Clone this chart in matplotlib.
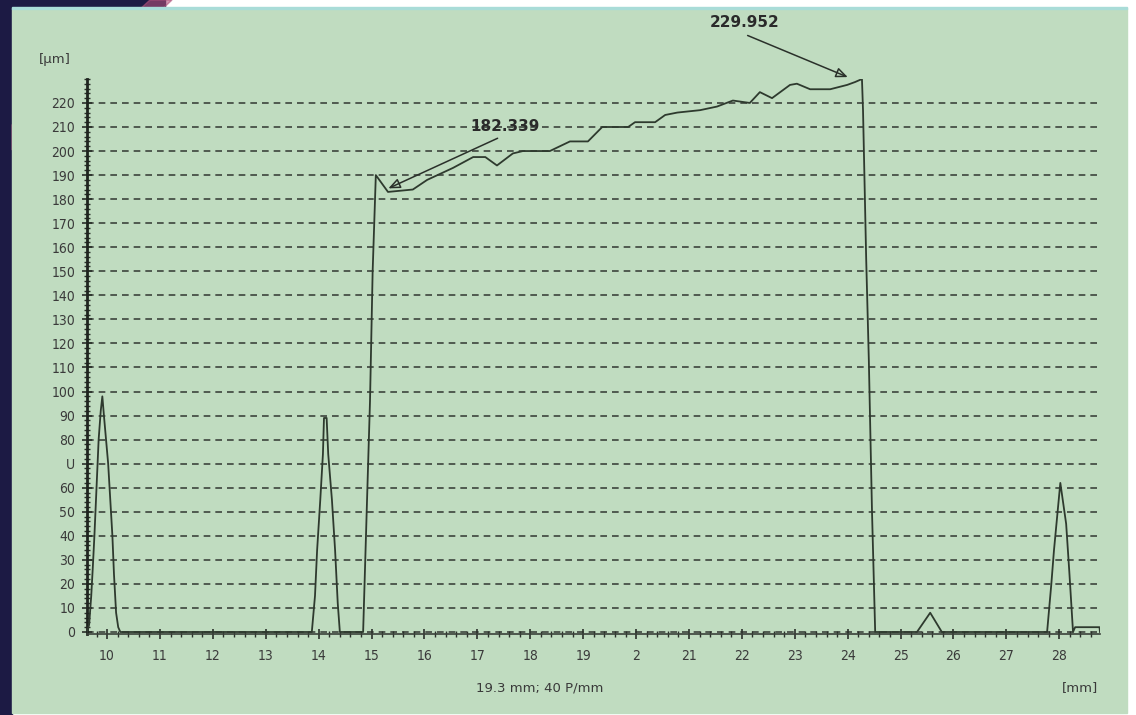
import matplotlib
matplotlib.use("Agg")
import matplotlib.pyplot as plt
from matplotlib.patches import Rectangle, Polygon
from matplotlib.ticker import MultipleLocator

# profile: position [mm] and height [um]
profile_x = [9.62, 9.66, 9.70, 9.73, 9.76, 9.80, 9.84, 9.88, 9.91, 9.94, 9.98, 10.02,
             10.06, 10.10, 10.13, 10.17, 10.21, 10.25,
             13.87, 13.93, 13.97, 14.03, 14.08, 14.10, 14.15, 14.18, 14.25, 14.31, 14.36, 14.40,
             14.84, 14.91, 14.97, 15.02, 15.08, 15.31, 15.78, 16.05, 16.54, 16.92, 17.15,
             17.37, 17.67, 17.86, 18.32, 18.37, 18.75, 19.09, 19.36, 19.85, 19.98, 20.36,
             20.55, 20.78, 21.21, 21.53, 21.83, 22.15, 22.34, 22.57, 22.91, 23.04, 23.29,
             23.67, 23.99, 24.14, 24.27, 24.29, 24.35, 24.40, 24.46, 24.52,
             25.31, 25.56, 25.78,
             27.77, 27.85, 27.90, 28.02, 28.13, 28.19, 28.26, 28.30, 28.76, 28.77]
profile_y = [0, 3, 15, 27, 40, 60, 80, 92, 98, 90, 80, 70,
             55, 40, 24, 8, 2, 0,
             0, 15, 34, 55, 74, 89, 89, 74, 55, 34, 12, 0,
             0, 52, 96, 150, 190, 183, 184, 188, 193, 197.5, 197.5,
             194, 199, 200, 200, 200, 204, 204, 210, 210, 212, 212,
             215, 216, 217, 218.5, 221, 220, 224.5, 222, 227.5, 228, 225.7,
             225.7, 227.5, 228.7, 229.95, 217, 155, 113, 50, 0,
             0, 8, 0,
             0, 20, 34, 62, 45, 25, 0, 2, 2, 0]

y_ticks = list(range(0, 221, 10))
y_tick_labels = [str(v) for v in y_ticks]
y_tick_labels[7] = "U"
x_ticks = list(range(10, 29))
x_tick_labels = [str(v) for v in x_ticks]
x_tick_labels[10] = "2"

# (label, text position, leader start, point)
notes = [("182.339", (17.52, 210.0), (17.43, 205.8), (15.27, 184.0)),
         ("229.952", (22.06, 253.6), (22.06, 248.5), (24.05, 230.3))]

W, H = 1136, 715
green = "#c0dcc0"
ink = "#2e3a2e"
grey = "#3c443c"

fig = plt.figure(figsize=(W / 100, H / 100), dpi=100)
fig.patch.set_facecolor("white")


def fx(x):
    return x / W


def fy(y):
    return 1 - y / H


# scanned surroundings
fig.add_artist(Rectangle((0, 0), fx(12), 1, transform=fig.transFigure,
                         color="#1c1a44", zorder=0))
fig.add_artist(Rectangle((0, fy(8)), fx(165), 8 / H, transform=fig.transFigure,
                         color="#1c1a44", zorder=0))
fig.add_artist(Polygon([(fx(150), 1), (fx(172), 1), (fx(12), fy(150)), (fx(12), fy(125))],
                       closed=True, transform=fig.transFigure, color="#b0507a",
                       alpha=0.6, zorder=0.1))
fig.add_artist(Rectangle((fx(12), fy(713)), fx(1127 - 12), (713 - 8) / H,
                         transform=fig.transFigure, color=green, zorder=0.5))
fig.add_artist(Rectangle((fx(12), fy(9)), fx(1127 - 12), 2 / H,
                         transform=fig.transFigure, color="#a9dcd8", zorder=0.6))

ax = fig.add_axes([fx(87), fy(634.4), fx(1100 - 87), (634.4 - 78.9) / H])
ax.set_zorder(2)
ax.set_facecolor("none")
ax.set_xlim(9.62, 28.77)
ax.set_ylim(-1, 230)

for v in y_ticks:
    ax.axhline(v, color=grey, lw=1.2, ls=(0, (4, 3)), zorder=1)

ax.plot(profile_x, profile_y, color=ink, lw=1.3, zorder=3)

for spine in ["top", "right"]:
    ax.spines[spine].set_visible(False)
ax.spines["left"].set_linewidth(2.0)
ax.spines["left"].set_color("#1e241e")
ax.spines["bottom"].set_linewidth(1.2)
ax.spines["bottom"].set_color("#3a423a")

ax.set_yticks(y_ticks)
ax.set_yticklabels(y_tick_labels)
ax.set_xticks(x_ticks)
ax.set_xticklabels(x_tick_labels)
ax.yaxis.set_minor_locator(MultipleLocator(2))
ax.xaxis.set_minor_locator(MultipleLocator(0.2))
ax.tick_params(axis="both", which="major", direction="inout", length=7, width=1.2,
               color="#2a302a", labelcolor="#3a3a3a", labelsize=10)
ax.tick_params(axis="y", which="major", pad=5)
ax.tick_params(axis="x", which="major", pad=7)
ax.tick_params(axis="both", which="minor", direction="inout", length=4, width=1.0,
               color="#2a302a")
for lab in ax.get_xticklabels() + ax.get_yticklabels():
    lab.set_fontstretch("condensed")

for label, tpos, start, pt in notes:
    ax.annotate(label, xy=tpos, ha="center", va="center", fontsize=11,
                fontweight="bold", color="#2a2a2a", annotation_clip=False, zorder=5)
    ax.annotate("", xy=pt, xytext=start, annotation_clip=False, zorder=4,
                arrowprops=dict(arrowstyle="-|>,head_length=0.7,head_width=0.3",
                                color="#2a302a", fc="none", lw=1.1))

fig.text(fx(55), fy(60), "[µm]", ha="center", va="center", fontsize=9.5, color="#3a3a3a")
fig.text(fx(540), fy(688), "19.3 mm; 40 P/mm", ha="center", va="center", fontsize=9.5,
         color="#3a3a3a")
fig.text(fx(1080), fy(688), "[mm]", ha="center", va="center", fontsize=9.5, color="#3a3a3a")

fig.savefig("out.png", dpi=100, facecolor=fig.get_facecolor())
